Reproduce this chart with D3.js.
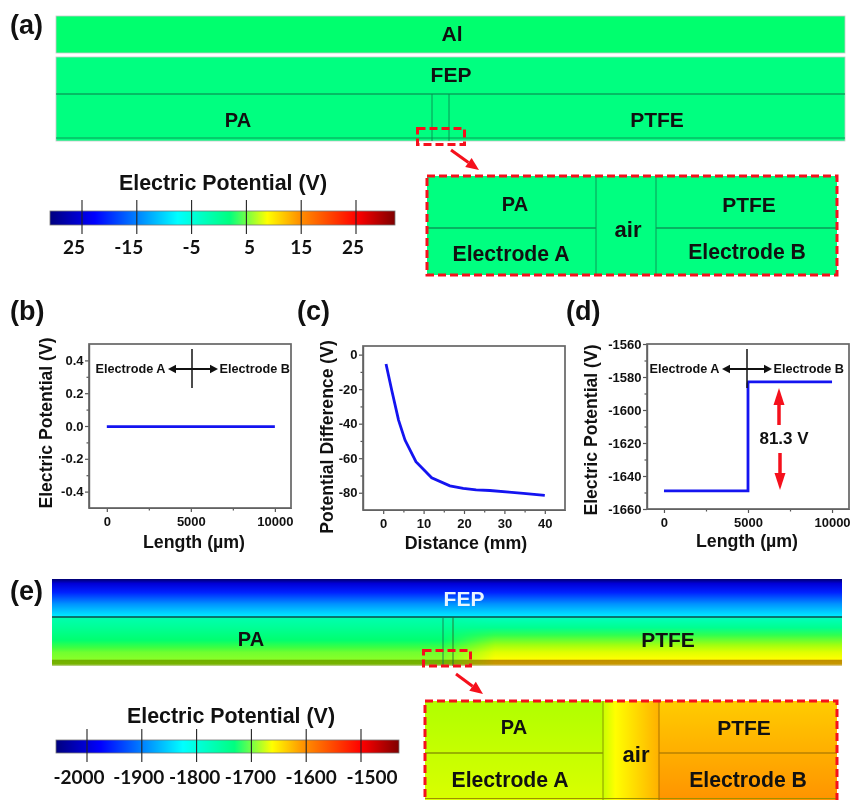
<!DOCTYPE html>
<meta charset="utf-8">
<style>

body {
  margin: 0;
  background: #fff;
}

svg {
  filter: blur(0.4px);
}

text {
  font-family: "Liberation Sans", Arial, sans-serif;
  font-weight: bold;
  fill: #111;
}

.cbar text {
  font-family: Lato, sans-serif;
  font-size: 19px;
  font-weight: 700;
}

.tick text {
  font-size: 13px;
}

.axis path, .axis line {
  stroke: #555;
  stroke-width: 1.2px;
}

</style>
<body>
<div id="figure"></div>
<script src="https://d3js.org/d3.v7.min.js"></script>
<script>

// panel b
var bLength = [0, 10000];
var bPotential = [-0.004, -0.004];
var bXTicks = [0, 5000, 10000];
var bXMinor = [2500, 7500];
var bXLabels = ["0", "5000", "10000"];
var bYTicks = [0.4, 0.2, 0, -0.2, -0.4];
var bYMinor = [0.3, 0.1, -0.1, -0.3];
var bYLabels = ["0.4", "0.2", "0.0", "-0.2", "-0.4"];

// panel c
var cDistance = [0.7, 2.1, 3.8, 5.4, 8.1, 12, 16.5, 19.8, 23, 26.4, 34.7, 40];
var cDifference = [-5.4, -20.5, -37.9, -49.5, -62, -71.3, -76, -77.5, -78.3, -78.7, -80.4, -81.5];
var cXTicks = [0, 10, 20, 30, 40];
var cXMinor = [5, 15, 25, 35];
var cXLabels = ["0", "10", "20", "30", "40"];
var cYTicks = [0, -20, -40, -60, -80];
var cYMinor = [-10, -30, -50, -70];
var cYLabels = ["0", "-20", "-40", "-60", "-80"];

// panel d
var dLength = [0, 5000, 5000, 5030, 10000];
var dPotential = [-1649, -1649, -1584, -1583, -1583];
var dXTicks = [0, 5000, 10000];
var dXMinor = [2500, 7500];
var dXLabels = ["0", "5000", "10000"];
var dYTicks = [-1560, -1580, -1600, -1620, -1640, -1660];
var dYMinor = [-1570, -1590, -1610, -1630, -1650];
var dYLabels = ["-1560", "-1580", "-1600", "-1620", "-1640", "-1660"];

// colour bars
var aBarTicks = [-25, -15, -5, 5, 15, 25];
var aBarLabels = ["25", "-15", "-5", "5", "15", "25"];
var eBarTicks = [-2000, -1900, -1800, -1700, -1600, -1500];
var eBarLabels = ["-2000", "-1900", "-1800", "-1700", "-1600", "-1500"];
var jetOffsets = [0, 0.13, 0.37, 0.52, 0.63, 0.72, 0.89, 1];
var jetColors = ["#00007f", "#0000ff", "#00ffff", "#00ff80", "#ffff00", "#ff9400", "#ff0000", "#7f0000"];

var width = 851,
    height = 800;

var svg = d3.select("#figure").append("svg")
    .attr("width", width)
    .attr("height", height)
    .style("display", "block");

var defs = svg.append("defs");

function gradient(id, offsets, colors, vertical) {
  var g = defs.append("linearGradient")
      .attr("id", id)
      .attr("x1", 0).attr("y1", 0)
      .attr("x2", vertical ? 0 : 1).attr("y2", vertical ? 1 : 0);
  offsets.forEach(function(o, i) {
    g.append("stop").attr("offset", o).attr("stop-color", colors[i]);
  });
}

gradient("jet", jetOffsets, jetColors, false);
gradient("fep", [0, 0.12, 0.35, 0.65, 1], ["#000070", "#0000d8", "#0020ff", "#0090ff", "#00f0ff"], true);
gradient("pa", [0, 0.2, 0.47, 0.63, 0.72, 0.86, 0.885, 0.96, 1],
  ["#00ffb0", "#00ff98", "#00ff70", "#40ff40", "#70ff30", "#88ff28", "#70b000", "#78b400", "#c8d8a0"], true);
gradient("ptfe", [0, 0.22, 0.37, 0.57, 0.72, 0.86, 0.885, 0.96, 1],
  ["#00ffc0", "#00ff90", "#30ff50", "#a0ff10", "#e0ff00", "#ffff00", "#c09000", "#c89800", "#e0d8b0"], true);
gradient("fade", [0, 1], ["#000", "#fff"], false);
gradient("zoomLeft", [0, 1], ["#b0ff00", "#dcff00"], true);
gradient("zoomAir", [0, 0.22, 1], ["#c8ff00", "#ffff00", "#ffb000"], false);
gradient("zoomRight", [0, 1], ["#ffcc00", "#ff9000"], true);

defs.append("mask").attr("id", "ptfeMask")
    .attr("maskUnits", "userSpaceOnUse")
    .attr("x", 52).attr("y", 617).attr("width", 790).attr("height", 49)
  .append("rect")
    .attr("x", 445).attr("y", 617).attr("width", 50).attr("height", 49)
    .attr("fill", "url(#fade)");
d3.select("#ptfeMask").append("rect")
    .attr("x", 495).attr("y", 617).attr("width", 347).attr("height", 49)
    .attr("fill", "#fff");

function label(txt, x, y, size, color) {
  return svg.append("text")
      .attr("x", x)
      .attr("y", y)
      .attr("text-anchor", "middle")
      .attr("dominant-baseline", "central")
      .style("font-size", size + "px")
      .style("fill", color || "#111")
      .text(txt);
}

function letter(txt, x, y) {
  svg.append("text").attr("x", x).attr("y", y).style("font-size", "27px").text(txt);
}

function hline(x1, x2, y, color, w) {
  svg.append("line").attr("x1", x1).attr("x2", x2).attr("y1", y).attr("y2", y)
      .attr("stroke", color).attr("stroke-width", w);
}

function vline(x, y1, y2, color, w) {
  svg.append("line").attr("x1", x).attr("x2", x).attr("y1", y1).attr("y2", y2)
      .attr("stroke", color).attr("stroke-width", w);
}

function arrow(parent, x1, y1, x2, y2, color, w, headLen, headW) {
  var a = Math.atan2(y2 - y1, x2 - x1),
      bx = x2 - headLen * Math.cos(a),
      by = y2 - headLen * Math.sin(a),
      nx = -Math.sin(a) * headW / 2,
      ny = Math.cos(a) * headW / 2;
  parent.append("line").attr("x1", x1).attr("y1", y1).attr("x2", bx).attr("y2", by)
      .attr("stroke", color).attr("stroke-width", w);
  parent.append("polygon")
      .attr("points", [[x2, y2], [bx + nx, by + ny], [bx - nx, by - ny]].join(" "))
      .attr("fill", color);
}

function dashedBox(x, y, w, h) {
  svg.append("rect").attr("x", x).attr("y", y).attr("width", w).attr("height", h)
      .attr("fill", "none").attr("stroke", "#f5101c")
      .attr("stroke-width", 3).attr("stroke-dasharray", "8,4");
}

function colorBar(x0, x1, y0, h, labelY, domain, range, ticks, labels, shift, title, titleX, titleY) {
  var scale = d3.scaleLinear().domain(domain).range(range);
  var g = svg.append("g").attr("class", "cbar");
  g.append("text")
      .attr("x", titleX).attr("y", titleY)
      .attr("text-anchor", "middle")
      .style("font-family", "'Liberation Sans'")
      .style("font-weight", "bold")
      .style("font-size", "21.4px")
      .text(title);
  g.append("rect")
      .attr("x", x0).attr("y", y0).attr("width", x1 - x0).attr("height", h)
      .attr("fill", "url(#jet)").attr("stroke", "#777").attr("stroke-width", 0.8);
  g.selectAll("line").data(ticks).enter().append("line")
      .attr("x1", scale).attr("x2", scale)
      .attr("y1", y0 - 11).attr("y2", y0 + h + 9)
      .attr("stroke", "#222").attr("stroke-width", 1.1);
  g.selectAll(".lab").data(ticks).enter().append("text")
      .attr("class", "lab")
      .attr("x", function(d, i) { return scale(d) + shift[i]; })
      .attr("y", labelY)
      .attr("text-anchor", "middle")
      .attr("dominant-baseline", "central")
      .text(function(d, i) { return labels[i]; });
}

// draws one x/y plot with frame, major and minor ticks
function plot(opt) {
  var x = d3.scaleLinear().domain(opt.xDomain).range([opt.left, opt.right]),
      y = d3.scaleLinear().domain(opt.yDomain).range([opt.bottom, opt.top]);

  var g = svg.append("g");

  g.append("g").attr("class", "axis")
      .attr("transform", "translate(0," + opt.bottom + ")")
      .call(d3.axisBottom(x).tickValues(opt.xMinor).tickSize(2.5).tickSizeOuter(0).tickFormat(""));
  g.append("g").attr("class", "axis")
      .attr("transform", "translate(" + opt.left + ",0)")
      .call(d3.axisLeft(y).tickValues(opt.yMinor).tickSize(2.5).tickSizeOuter(0).tickFormat(""));
  g.append("g").attr("class", "axis")
      .attr("transform", "translate(0," + opt.bottom + ")")
      .call(d3.axisBottom(x).tickValues(opt.xTicks).tickSize(4).tickSizeOuter(0).tickPadding(4.6)
        .tickFormat(function(d, i) { return opt.xLabels[i]; }));
  g.append("g").attr("class", "axis")
      .attr("transform", "translate(" + opt.left + ",0)")
      .call(d3.axisLeft(y).tickValues(opt.yTicks).tickSize(4).tickSizeOuter(0).tickPadding(1.5)
        .tickFormat(function(d, i) { return opt.yLabels[i]; }));

  g.append("rect")
      .attr("x", opt.left).attr("y", opt.top)
      .attr("width", opt.right - opt.left).attr("height", opt.bottom - opt.top)
      .attr("fill", "none").attr("stroke", "#666").attr("stroke-width", 1.7);

  var line = d3.line()
      .x(function(d) { return x(d[0]); })
      .y(function(d) { return y(d[1]); });

  g.append("path")
      .datum(d3.zip(opt.xs, opt.ys))
      .attr("d", line)
      .attr("fill", "none")
      .attr("stroke", "#1414f0")
      .attr("stroke-width", 2.8);

  label(opt.xTitle, opt.xTitleX, opt.xTitleY, 17.8);
  label(opt.yTitle, 0, 0, 17.6)
      .attr("transform", "translate(" + opt.yTitleX + "," + opt.yTitleY + ") rotate(-90)");

  return {x: x, y: y, g: g};
}

// Electrode A <-|-> Electrode B note used in b and d
function electrodeNote(p, crossX, left, right, midY) {
  p.g.append("line").attr("x1", crossX).attr("x2", crossX)
      .attr("y1", midY - 20).attr("y2", midY + 19)
      .attr("stroke", "#111").attr("stroke-width", 1.5);
  arrow(p.g, crossX, midY, left, midY, "#111", 2, 8, 8.5);
  arrow(p.g, crossX, midY, right, midY, "#111", 2, 8, 8.5);
  p.g.append("text").attr("x", left - 2.5).attr("y", midY)
      .attr("text-anchor", "end").attr("dominant-baseline", "central")
      .style("font-size", "12.7px").text("Electrode A");
  p.g.append("text").attr("x", right + 1.5).attr("y", midY - 0.5)
      .attr("dominant-baseline", "central")
      .style("font-size", "12.7px").text("Electrode B");
}

/* ---------- (a) ---------- */
letter("(a)", 10, 34);

svg.append("rect").attr("x", 56).attr("y", 16).attr("width", 789).attr("height", 37)
    .attr("fill", "#00ff6e").attr("stroke", "#c8c8c8").attr("stroke-width", 0.8);
svg.append("rect").attr("x", 56).attr("y", 57).attr("width", 789).attr("height", 84)
    .attr("fill", "#00ff80").attr("stroke", "#c8c8c8").attr("stroke-width", 0.8);
hline(56, 845, 94, "#0a7a48", 1.2);
hline(56, 845, 138, "#0a9a58", 1);
vline(432, 94, 141, "#0a8a50", 0.9);
vline(449, 94, 141, "#0a8a50", 0.9);

label("Al", 452, 33, 21);
label("FEP", 451, 74, 21);
label("PA", 238, 120, 20);
label("PTFE", 657, 119, 21);

dashedBox(417.5, 128.5, 47, 16);
arrow(svg, 451, 150, 479, 170, "#f5101c", 3, 13, 11);

svg.append("rect").attr("x", 427).attr("y", 176).attr("width", 410).attr("height", 99)
    .attr("fill", "#00ff80");
hline(427, 596, 228, "#0a9a58", 1.3);
hline(656, 837, 228, "#0a9a58", 1.3);
vline(596, 176, 275, "#0a9a58", 1);
vline(656, 176, 275, "#0a9a58", 1);
dashedBox(427, 176, 410, 99);

label("PA", 515, 204, 20);
label("air", 628, 229, 22);
label("PTFE", 749, 204, 21);
label("Electrode A", 511, 253, 21.2);
label("Electrode B", 747, 251, 21.2);

colorBar(50, 395, 211, 14, 246, [-25, 25], [82, 356], aBarTicks, aBarLabels,
  [-8, -8, 0, 3, 0, -3], "Electric Potential (V)", 223, 190);

/* ---------- (b) ---------- */
letter("(b)", 10, 320);

var pb = plot({
  left: 89, right: 291, top: 344, bottom: 508,
  xDomain: [-1060, 10960], yDomain: [-0.5, 0.5],
  xs: bLength, ys: bPotential,
  xTicks: bXTicks, xMinor: bXMinor, xLabels: bXLabels,
  yTicks: bYTicks, yMinor: bYMinor, yLabels: bYLabels,
  xTitle: "Length (µm)", xTitleX: 194, xTitleY: 542,
  yTitle: "Electric Potential (V)", yTitleX: 46, yTitleY: 423
});
electrodeNote(pb, 192, 168, 218, 369);

/* ---------- (c) ---------- */
letter("(c)", 297, 320);

plot({
  left: 363, right: 565, top: 346, bottom: 510,
  xDomain: [-5, 45], yDomain: [-90, 5],
  xs: cDistance, ys: cDifference,
  xTicks: cXTicks, xMinor: cXMinor, xLabels: cXLabels,
  yTicks: cYTicks, yMinor: cYMinor, yLabels: cYLabels,
  xTitle: "Distance (mm)", xTitleX: 466, xTitleY: 543,
  yTitle: "Potential Difference (V)", yTitleX: 327, yTitleY: 437
});

/* ---------- (d) ---------- */
letter("(d)", 566, 320);

var pd = plot({
  left: 647, right: 849, top: 344, bottom: 509,
  xDomain: [-1010, 11010], yDomain: [-1660, -1560],
  xs: dLength, ys: dPotential,
  xTicks: dXTicks, xMinor: dXMinor, xLabels: dXLabels,
  yTicks: dYTicks, yMinor: dYMinor, yLabels: dYLabels,
  xTitle: "Length (µm)", xTitleX: 747, xTitleY: 541,
  yTitle: "Electric Potential (V)", yTitleX: 591, yTitleY: 430
});
electrodeNote(pd, 747, 722, 772, 369);
arrow(pd.g, 779, 425, 779, 388, "#f5101c", 3.5, 17, 11);
arrow(pd.g, 780, 453, 780, 490, "#f5101c", 3.5, 17, 11);
label("81.3 V", 784, 438, 17);

/* ---------- (e) ---------- */
letter("(e)", 10, 600);

svg.append("rect").attr("x", 52).attr("y", 579).attr("width", 790).attr("height", 38)
    .attr("fill", "url(#fep)");
svg.append("rect").attr("x", 52).attr("y", 617).attr("width", 790).attr("height", 49)
    .attr("fill", "url(#pa)");
svg.append("rect").attr("x", 52).attr("y", 617).attr("width", 790).attr("height", 49)
    .attr("fill", "url(#ptfe)").attr("mask", "url(#ptfeMask)");
hline(52, 842, 617, "#0c4a48", 1.6);
vline(443, 617, 666, "#1a7a50", 0.9);
vline(453, 617, 666, "#2a6a30", 0.9);

label("FEP", 464, 598, 21, "#e8f4ff");
label("PA", 251, 639, 20);
label("PTFE", 668, 639, 21);

dashedBox(423.5, 650.5, 47, 15.5);
arrow(svg, 456, 674, 483, 694, "#f5101c", 3, 13, 11);

// zoomed region, runs off the bottom of the page
svg.append("rect").attr("x", 425).attr("y", 701).attr("width", 178).attr("height", 105)
    .attr("fill", "url(#zoomLeft)");
svg.append("rect").attr("x", 603).attr("y", 701).attr("width", 56).attr("height", 105)
    .attr("fill", "url(#zoomAir)");
svg.append("rect").attr("x", 659).attr("y", 701).attr("width", 178).attr("height", 105)
    .attr("fill", "url(#zoomRight)");
hline(425, 603, 753, "#8a9a00", 1.6);
hline(659, 837, 753, "#b88000", 1.6);
hline(425, 837, 798.5, "#a09000", 1.2);
vline(603, 701, 800, "#8a9a00", 1);
vline(659, 701, 800, "#a87000", 1);
dashedBox(425, 701, 412, 110);

label("PA", 514, 727, 20);
label("air", 636, 754, 22);
label("PTFE", 744, 727, 21);
label("Electrode A", 510, 779, 21.2);
label("Electrode B", 748, 779, 21.2);

colorBar(56, 399, 740, 13, 776, [-2000, -1500], [87, 361], eBarTicks, eBarLabels,
  [-8, -3, -2, -1, 5, 11], "Electric Potential (V)", 231, 723);

</script>
</body>
